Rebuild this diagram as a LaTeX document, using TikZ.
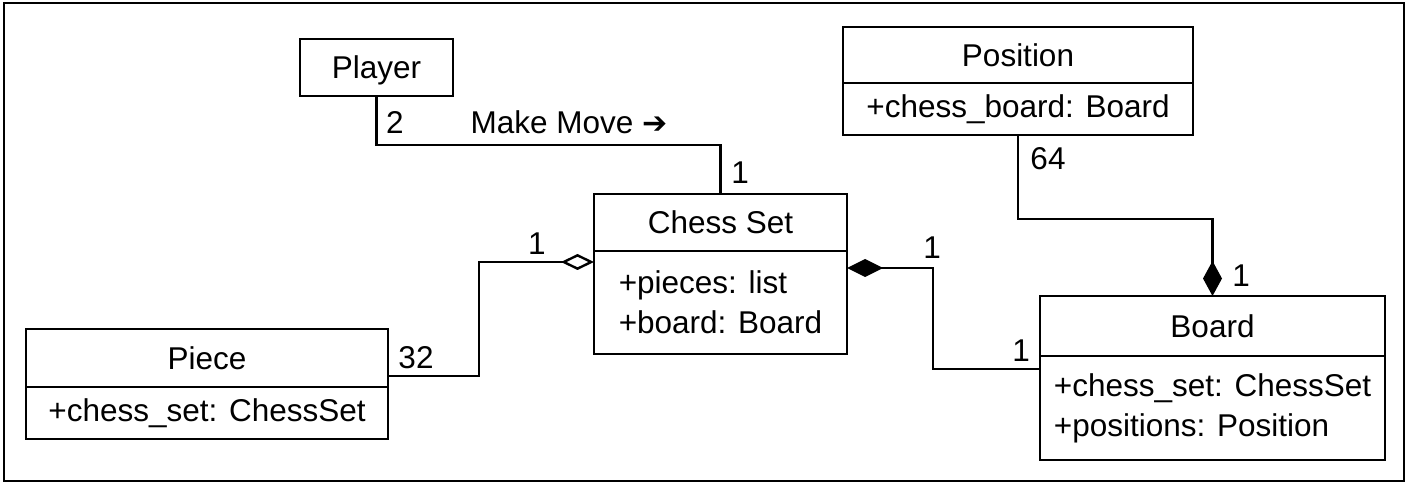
\documentclass[tikz,border=0pt]{standalone}
\usepackage{fontspec}
\setmainfont{Liberation Sans}
\newfontfamily\symfont{DejaVu Sans Bold}
\usetikzlibrary{arrows.meta,calc}
\begin{document}
\begin{tikzpicture}[x=1pt,y=-1pt,
  every node/.style={font=\fontsize{31.5}{40}\selectfont, inner sep=0pt, outer sep=0pt},
  box/.style={draw, line width=2.6pt, anchor=north west},
  ttl/.style={box, text height=22.5pt, text depth=0pt},
  attr/.style={box, align=left},
  lbl/.style={text height=22.5pt, text depth=0pt},
  conn/.style={line width=2.4pt},
  agg/.style={-{Diamond[open, length=33pt, width=16pt, line width=2.4pt]}},
  comp/.style={-{Diamond[length=36pt, width=18pt]}}
]
\useasboundingbox (0,0) rectangle (1410,486);
\draw[line width=2.6pt] (4,3) rectangle (1404,481);

% Player
\node[ttl, minimum width=153pt, minimum height=57pt] (pl) at (300,39) {Player};
% Chess Set
\node[ttl, minimum width=253pt, minimum height=57pt] (cst) at (594,194) {Chess Set};
\node[attr, minimum width=253pt, minimum height=103pt] (csa) at (cst.south west) {+pieces: list\\+board: Board};
% Position
\node[ttl, minimum width=350pt, minimum height=56pt] (pst) at (843,27) {Position};
\node[attr, minimum width=350pt, minimum height=52pt] (psa) at (pst.south west) {+chess\_board: Board};
% Piece
\node[ttl, minimum width=362pt, minimum height=58pt] (pct) at (26,329) {Piece};
\node[attr, minimum width=362pt, minimum height=52pt] (pca) at (pct.south west) {+chess\_set: ChessSet};
% Board
\node[ttl, minimum width=345pt, minimum height=60pt] (bdt) at (1040,296) {Board};
\node[attr, minimum width=345pt, minimum height=104pt] (bda) at (bdt.south west) {+chess\_set: ChessSet\\+positions: Position};

% Player -- Chess Set
\draw[conn] (pl.south) -- ++(0,49) -| (cst.north);
\node[lbl] (l2) at (395,122) {2};
\node[lbl] (lmm) at (569,122) {Make Move {\symfont\fontsize{30}{30}\selectfont ➔}};
\node[lbl] (l1a) at (740,172) {1};

% Piece -- Chess Set (aggregation)
\draw[conn, agg] ($(pct.south east)+(0,-11)$) -- ++(91,0) |- ($(csa.north west)+(0,11)$);
\node[lbl] (l32) at (416,357) {32};
\node[lbl] (l1b) at (537,243) {1};

% Board -- Chess Set (composition)
\draw[conn, comp] ($(bda.north west)+(0,13)$) -- ++(-107,0) |- ($(csa.north east)+(0,17)$);
\node[lbl] (l1c) at (932,247) {1};
\node[lbl] (l1d) at (1021,350) {1};

% Position -- Board (composition)
\draw[conn, -{Diamond[length=35pt, width=19pt]}] (psa.south) -- ++(0,84) -| (bdt.north);
\node[lbl] (l64) at (1048,158) {64};
\node[lbl] (l1e) at (1241,275) {1};
\end{tikzpicture}
\end{document}
